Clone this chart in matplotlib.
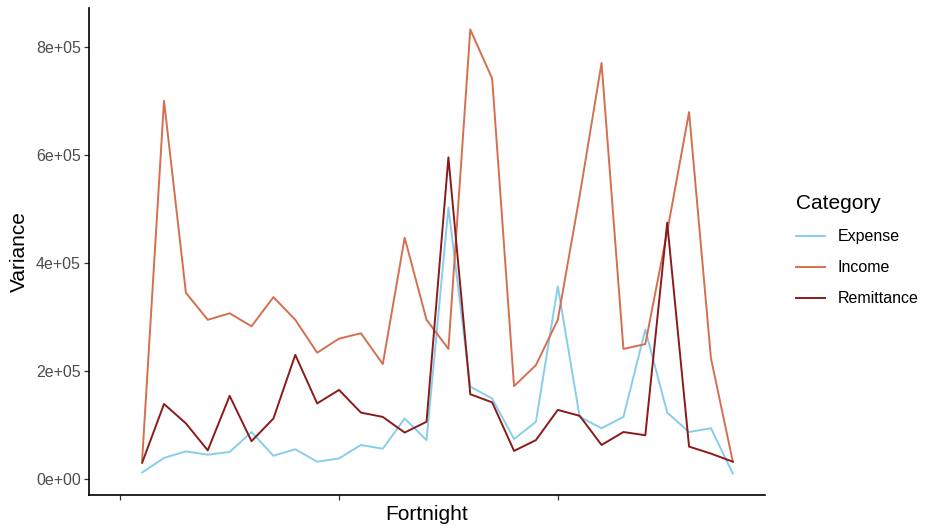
import matplotlib
matplotlib.use("Agg")
import matplotlib.pyplot as plt
from matplotlib.lines import Line2D

plt.rcParams["font.family"] = ["Liberation Sans", "DejaVu Sans"]

fortnight = list(range(1, 29))
expense = [12000, 39000, 51000, 45000, 50000, 87000, 43000, 55000, 32000, 38000,
           63000, 56000, 112000, 72000, 503000, 171000, 149000, 74000, 106000, 357000,
           115000, 94000, 115000, 277000, 123000, 87000, 94000, 10000]
income = [35000, 701000, 345000, 295000, 307000, 283000, 337000, 295000, 234000, 260000,
          270000, 213000, 447000, 295000, 241000, 833000, 742000, 172000, 211000, 295000,
          525000, 771000, 241000, 250000, 458000, 680000, 224000, 32000]
remittance = [30000, 139000, 103000, 53000, 154000, 70000, 112000, 230000, 140000, 165000,
              123000, 115000, 86000, 106000, 596000, 157000, 142000, 52000, 72000, 128000,
              117000, 63000, 87000, 81000, 475000, 60000, 47000, 32000]

series = [("Expense", expense, "#87CEEB"),
          ("Income", income, "#D4704F"),
          ("Remittance", remittance, "#8B1A1A")]

y_ticks = [0, 200000, 400000, 600000, 800000]
y_labels = ["0e+00", "2e+05", "4e+05", "6e+05", "8e+05"]
x_ticks = [0, 10, 20]

fig = plt.figure(figsize=(9.25, 5.29), dpi=100)
ax = fig.add_axes([0.0962, 0.064, 0.7308, 0.921])

for name, vals, col in series:
    ax.plot(fortnight, vals, color=col, lw=1.4, label=name)

ax.set_xlim(-1.43, 29.47)
ax.set_ylim(-30000, 873000)
ax.set_xticks(x_ticks)
ax.set_xticklabels([""] * len(x_ticks))
ax.set_yticks(y_ticks)
ax.set_yticklabels(y_labels, color="#4D4D4D", fontsize=11.5)
ax.tick_params(axis="both", length=3.8, width=0.9, color="#333333", pad=2)

for side in ("top", "right"):
    ax.spines[side].set_visible(False)
for side in ("left", "bottom"):
    ax.spines[side].set_linewidth(1.2)
    ax.spines[side].set_color("black")

ax.set_xlabel("Fortnight", fontsize=15, labelpad=1)
ax.set_ylabel("Variance", fontsize=15, labelpad=5)

handles = [Line2D([0], [0], color=c, lw=1.4) for _, _, c in series]
labels = [n for n, _, _ in series]
leg = fig.legend(handles, labels, title="Category", loc="upper left",
                 bbox_to_anchor=(0.854, 0.645), frameon=False, fontsize=11.5,
                 title_fontsize=15, handlelength=1.8, labelspacing=1.0,
                 handletextpad=0.8, borderaxespad=0)
leg._legend_box.align = "left"

fig.savefig("out.png", dpi=100)
